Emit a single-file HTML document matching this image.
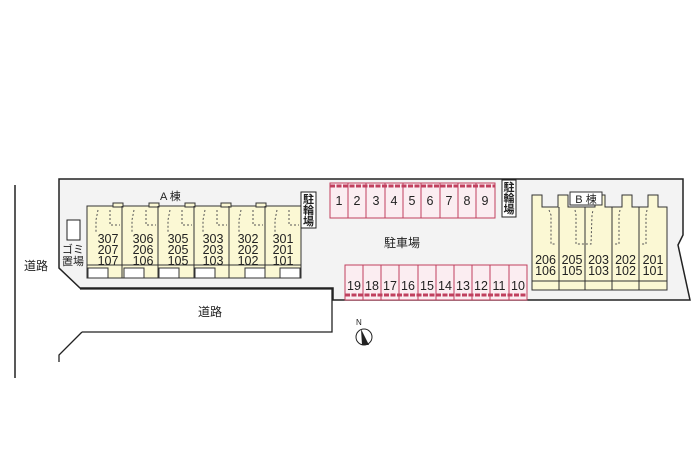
<!DOCTYPE html>
<html><head><meta charset="utf-8"><style>
body{margin:0;background:#fff}
svg{display:block}
text{font-family:"Liberation Sans","Noto Sans CJK JP",sans-serif;fill:#222}
</style></head><body>
<svg width="700" height="466" viewBox="0 0 700 466" xmlns="http://www.w3.org/2000/svg">
<path d="M59,179 L683,179 L683,235 L678,245 L690,300 L333,300 L333,288 L80,288 L59,268 Z" fill="#f3f3f3" stroke="#222" stroke-width="1.5"/>
<path d="M80,289 L332,289 L332,332 L82,332" fill="#fff" stroke="#222" stroke-width="1.3"/>
<path d="M82,332 L59,355 L59,362" fill="none" stroke="#222" stroke-width="1.3"/>
<line x1="15" y1="185" x2="15" y2="378" stroke="#222" stroke-width="1.5"/>
<text x="24" y="270" font-size="12">道路</text>
<text x="198" y="316" font-size="12">道路</text>
<rect x="67" y="220" width="13" height="20" fill="#fff" stroke="#222"/>
<text x="62" y="253" font-size="11">ゴ</text><text x="62" y="265" font-size="11">置</text>
<text x="73" y="253" font-size="11">ミ</text><text x="73" y="265" font-size="11">場</text>
<rect x="87" y="206" width="214" height="72" fill="#fbf8d4" stroke="#333"/>
<g fill="#fbf8d4" stroke="#333">
<rect x="113" y="203" width="10" height="4"/><rect x="149" y="203" width="10" height="4"/><rect x="185" y="203" width="10" height="4"/><rect x="221" y="203" width="10" height="4"/><rect x="256" y="203" width="10" height="4"/>
</g>
<g stroke="#333" fill="none">
<line x1="122" y1="206" x2="122" y2="278"/><line x1="158" y1="206" x2="158" y2="278"/><line x1="194" y1="206" x2="194" y2="278"/><line x1="229" y1="206" x2="229" y2="278"/><line x1="265" y1="206" x2="265" y2="278"/>
<line x1="87" y1="265" x2="301" y2="265"/>
</g>
<g fill="#fff" stroke="#333">
<rect x="88" y="268" width="20" height="10"/><rect x="124" y="268" width="20" height="10"/><rect x="159" y="268" width="20" height="10"/><rect x="195" y="268" width="20" height="10"/><rect x="245" y="268" width="20" height="10"/><rect x="280" y="268" width="20" height="10"/>
</g>
<g stroke="#555" stroke-dasharray="2,2" fill="none">
<path d="M98,210 L96,220 L96,232"/><path d="M110,210 L110,225 L120,225"/>
<path d="M134,210 L132,220 L132,232"/><path d="M146,210 L146,225 L156,225"/>
<path d="M170,210 L168,220 L168,232"/><path d="M182,210 L182,225 L192,225"/>
<path d="M205,210 L203,220 L203,232"/><path d="M217,210 L217,225 L227,225"/>
<path d="M241,210 L239,220 L239,232"/><path d="M253,210 L253,225 L263,225"/>
<path d="M277,210 L275,220 L275,232"/><path d="M289,210 L289,225 L299,225"/>
</g>
<g font-size="12.5" text-anchor="middle">
<text x="108" y="243">307</text><text x="108" y="254">207</text><text x="108" y="265">107</text>
<text x="143" y="243">306</text><text x="143" y="254">206</text><text x="143" y="265">106</text>
<text x="178" y="243">305</text><text x="178" y="254">205</text><text x="178" y="265">105</text>
<text x="213" y="243">303</text><text x="213" y="254">203</text><text x="213" y="265">103</text>
<text x="248" y="243">302</text><text x="248" y="254">202</text><text x="248" y="265">102</text>
<text x="283" y="243">301</text><text x="283" y="254">201</text><text x="283" y="265">101</text>
</g>
<text x="160" y="200" font-size="11">A 棟</text>
<rect x="301" y="192" width="15" height="36" fill="#fff" stroke="#222"/>
<g font-size="11" text-anchor="middle" font-weight="bold"><text x="308.5" y="203">駐</text><text x="308.5" y="214">輪</text><text x="308.5" y="225">場</text></g>
<rect x="330" y="183" width="165" height="35" fill="#fbedf1" stroke="#c0405e"/>
<g stroke="#c0405e"><line x1="348" y1="183" x2="348" y2="218"/><line x1="366" y1="183" x2="366" y2="218"/><line x1="385" y1="183" x2="385" y2="218"/><line x1="403" y1="183" x2="403" y2="218"/><line x1="421" y1="183" x2="421" y2="218"/><line x1="440" y1="183" x2="440" y2="218"/><line x1="458" y1="183" x2="458" y2="218"/><line x1="476" y1="183" x2="476" y2="218"/></g>
<line x1="330" y1="186" x2="495" y2="186" stroke="#c0405e" stroke-width="3" stroke-dasharray="5,1.5"/>
<g font-size="12.5" text-anchor="middle">
<text x="339" y="205">1</text><text x="357" y="205">2</text><text x="376" y="205">3</text><text x="394" y="205">4</text><text x="412" y="205">5</text><text x="430" y="205">6</text><text x="449" y="205">7</text><text x="467" y="205">8</text><text x="485" y="205">9</text>
</g>
<rect x="502" y="180" width="14" height="37" fill="#fff" stroke="#222"/>
<g font-size="11" text-anchor="middle" font-weight="bold"><text x="509" y="191">駐</text><text x="509" y="202">輪</text><text x="509" y="213">場</text></g>
<text x="402" y="247" font-size="12" text-anchor="middle">駐車場</text>
<rect x="345" y="265" width="182" height="35" fill="#fbedf1" stroke="#c0405e"/>
<g stroke="#c0405e"><line x1="363" y1="265" x2="363" y2="300"/><line x1="381" y1="265" x2="381" y2="300"/><line x1="399" y1="265" x2="399" y2="300"/><line x1="418" y1="265" x2="418" y2="300"/><line x1="436" y1="265" x2="436" y2="300"/><line x1="454" y1="265" x2="454" y2="300"/><line x1="472" y1="265" x2="472" y2="300"/><line x1="490" y1="265" x2="490" y2="300"/><line x1="509" y1="265" x2="509" y2="300"/></g>
<line x1="345" y1="295" x2="527" y2="295" stroke="#c0405e" stroke-width="3" stroke-dasharray="5,1.5"/>
<g font-size="12.5" text-anchor="middle">
<text x="354" y="290">19</text><text x="372" y="290">18</text><text x="390" y="290">17</text><text x="408" y="290">16</text><text x="427" y="290">15</text><text x="445" y="290">14</text><text x="463" y="290">13</text><text x="481" y="290">12</text><text x="499" y="290">11</text><text x="518" y="290">10</text>
</g>
<path d="M532,195 L542,195 L542,207 L558,207 L558,195 L568,195 L568,207 L595,207 L595,195 L605,195 L605,207 L622,207 L622,195 L632,195 L632,207 L648,207 L648,195 L658,195 L658,207 L667,207 L667,290 L532,290 Z" fill="#fbf8d4" stroke="#333"/>
<g stroke="#333"><line x1="559" y1="207" x2="559" y2="290"/><line x1="585" y1="207" x2="585" y2="290"/><line x1="612" y1="207" x2="612" y2="290"/><line x1="639" y1="207" x2="639" y2="290"/><line x1="532" y1="281" x2="667" y2="281"/></g>
<rect x="570" y="192" width="32" height="13" fill="#fff" stroke="#333"/>
<text x="586" y="203" font-size="11" text-anchor="middle">B 棟</text>
<g stroke="#555" stroke-dasharray="2,2" fill="none">
<path d="M549,210 L551,215 L551,244 L556,244"/><path d="M575,210 L576,215 L576,244 L591,244 L592,215 L593,210"/><path d="M620,210 L619,215 L619,244 L614,244"/><path d="M647,210 L646,215 L646,244 L641,244"/>
</g>
<g font-size="12.5" text-anchor="middle">
<text x="545.5" y="264">206</text><text x="545.5" y="275">106</text>
<text x="572" y="264">205</text><text x="572" y="275">105</text>
<text x="598.5" y="264">203</text><text x="598.5" y="275">103</text>
<text x="625.5" y="264">202</text><text x="625.5" y="275">102</text>
<text x="653" y="264">201</text><text x="653" y="275">101</text>
</g>
<circle cx="364" cy="337" r="8" fill="#fff" stroke="#222"/>
<path d="M361,329 L369,345 L362,345 Z" fill="#222"/>
<text x="356" y="325" font-size="8">N</text>
</svg>
</body></html>
